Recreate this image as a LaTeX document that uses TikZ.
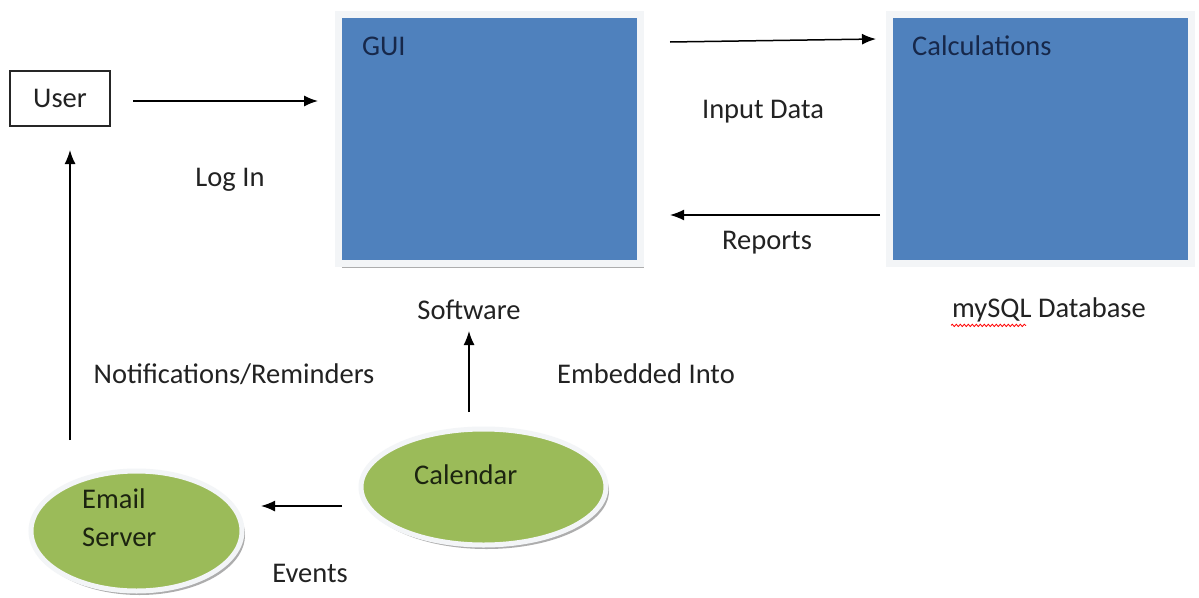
\documentclass[tikz,border=0pt]{standalone}
\usepackage{fontspec}
\setmainfont{Carlito}
\usetikzlibrary{arrows.meta,shapes.geometric,shadows,decorations.pathmorphing}
\definecolor{boxblue}{HTML}{4F81BD}
\definecolor{ovgreen}{HTML}{9BBB59}
\definecolor{framecol}{HTML}{F3F5F7}
\definecolor{navy}{HTML}{17284A}
\definecolor{darkgreentext}{HTML}{1C2410}
\definecolor{labeltext}{HTML}{222222}
\begin{document}
\begin{tikzpicture}[x=1pt,y=-1pt,
  lbl/.style={font=\fontsize{28.5}{32}\selectfont, text=labeltext, inner sep=0pt},
  boxlbl/.style={font=\fontsize{28.5}{32}\selectfont, text=navy, inner sep=0pt, anchor=west},
  ovlbl/.style={font=\fontsize{28.5}{32}\selectfont, text=darkgreentext, inner sep=0pt, anchor=west},
  bluebox/.style={rectangle, fill=boxblue, draw=framecol, line width=7pt,
    minimum width=302pt, minimum height=249pt, inner sep=0pt,
    drop shadow={shadow xshift=3pt, shadow yshift=-4pt, fill=black!40, opacity=0.8}},
  greenov/.style={ellipse, fill=ovgreen, draw=framecol, line width=5pt, inner sep=0pt,
    drop shadow={shadow xshift=3pt, shadow yshift=-4pt, fill=black!40, opacity=0.8}},
  userbox/.style={rectangle, draw=black!85, line width=1.5pt, minimum width=100pt, minimum height=55pt, inner sep=0pt},
  arr/.style={-{Latex[length=14pt,width=11pt]}, line width=1.5pt, draw=black}
]
\useasboundingbox (0,0) rectangle (1199,597);
\fill[white] (0,0) rectangle (1199,597);

% boxes
\node[userbox, font=\fontsize{28.5}{32}\selectfont, text=labeltext] (user) at (60,98.5) {User};
\node[bluebox] (gui) at (489.5,139) {};
\node[boxlbl] (guilbl) at (362,46) {GUI};
\node[bluebox] (calc) at (1040.5,138.5) {};
\node[boxlbl] (calclbl) at (912,46) {Calculations};

% ellipses
\node[greenov, minimum width=245pt, minimum height=116pt] (cal) at (483.5,487) {};
\node[ovlbl] (callbl) at (414,475) {Calendar};
\node[greenov, minimum width=211pt, minimum height=120pt] (email) at (136.5,531) {};
\node[ovlbl, align=left] (emaillbl) at (82,518) {Email\\[6pt]Server};

% labels
\node[lbl] (login) at (230,180) {Log In};
\node[lbl] (input) at (763,112) {Input Data};
\node[lbl] (reports) at (767,243) {Reports};
\node[lbl] (software) at (469,310) {Software};
\node[lbl] (db) at (1049,310) {mySQL Database};
\node[lbl] (embedded) at (646,374) {Embedded Into};
\node[lbl] (notif) at (234,374) {Notifications/Reminders};
\node[lbl] (events) at (310,573) {Events};

\draw[red, line width=0.8pt, decorate, decoration={snake, amplitude=1.2pt, segment length=4pt}]
  ([xshift=-1pt,yshift=-3pt]db.south west) -- ++(75,0);

% connectors
\coordinate (u1) at (133,101);
\coordinate (u2) at (318,101);
\draw[arr] (u1) -- (u2);
\coordinate (g1) at (670,42);
\coordinate (g2) at (876,39);
\draw[arr] (g1) -- (g2);
\coordinate (r1) at (880,215);
\coordinate (r2) at (670,215);
\draw[arr] (r1) -- (r2);
\coordinate (c1) at (469,412);
\coordinate (c2) at (469,331);
\draw[arr] (c1) -- (c2);
\coordinate (e1) at (70,440);
\coordinate (e2) at (70,150);
\draw[arr] (e1) -- (e2);
\coordinate (v1) at (342,506);
\coordinate (v2) at (261,506);
\draw[arr] (v1) -- (v2);
\end{tikzpicture}
\end{document}
